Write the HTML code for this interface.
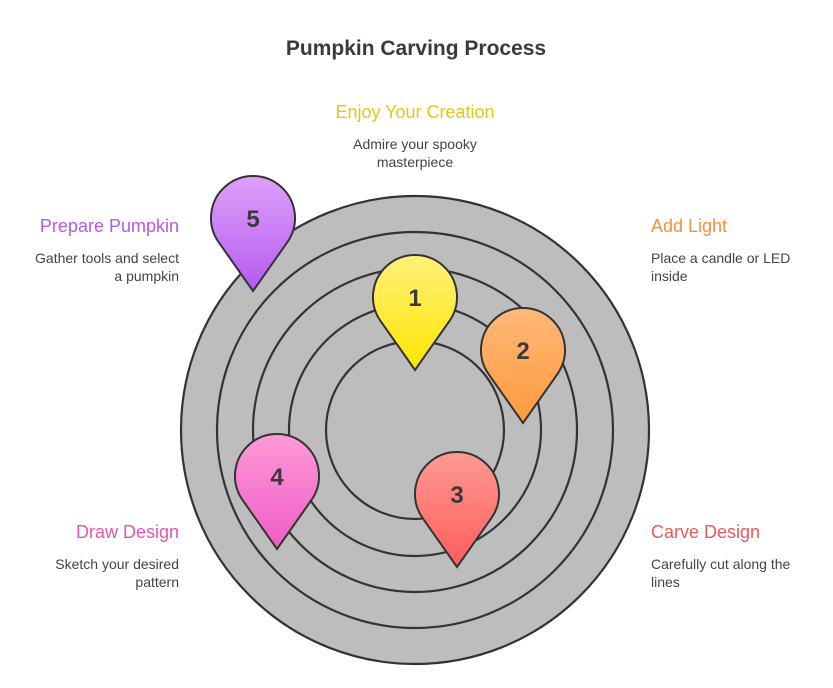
<!DOCTYPE html>
<html><head><meta charset="utf-8"><style>
body{margin:0;width:833px;height:683px;background:#fff;font-family:"Liberation Sans",sans-serif;overflow:hidden}
</style></head><body>
<svg width="833" height="683" xmlns="http://www.w3.org/2000/svg" font-family="Liberation Sans, sans-serif">
<defs>
<linearGradient id="gy" x1="0" y1="0" x2="0" y2="1"><stop offset="0" stop-color="#fff07a"/><stop offset="1" stop-color="#ffe600"/></linearGradient>
<linearGradient id="go" x1="0" y1="0" x2="0" y2="1"><stop offset="0" stop-color="#ffb87a"/><stop offset="1" stop-color="#ff9a3c"/></linearGradient>
<linearGradient id="gr" x1="0" y1="0" x2="0" y2="1"><stop offset="0" stop-color="#ff9a92"/><stop offset="1" stop-color="#ff5c5c"/></linearGradient>
<linearGradient id="gp" x1="0" y1="0" x2="0" y2="1"><stop offset="0" stop-color="#ff9ad8"/><stop offset="1" stop-color="#ee5cc6"/></linearGradient>
<linearGradient id="gv" x1="0" y1="0" x2="0" y2="1"><stop offset="0" stop-color="#dea0fa"/><stop offset="1" stop-color="#b45af0"/></linearGradient>
<path id="pin" d="M-34.4,24.1 A42 42 0 1 1 34.4,24.1 L0,73 Z"/>
</defs>
<text x="416" y="55" text-anchor="middle" font-size="21" font-weight="bold" fill="#3a3a3a">Pumpkin Carving Process</text>
<g fill="#bdbdbd" stroke="#333" stroke-width="2.2">
<circle cx="415" cy="430" r="234"/>
<circle cx="415" cy="430" r="198"/>
<circle cx="415" cy="430" r="162"/>
<circle cx="415" cy="430" r="126"/>
<circle cx="415" cy="430" r="89"/>
</g>
<g stroke="#333" stroke-width="2">
<use href="#pin" transform="translate(415,297)" fill="url(#gy)"/>
<use href="#pin" transform="translate(523,350)" fill="url(#go)"/>
<use href="#pin" transform="translate(457,494)" fill="url(#gr)"/>
<use href="#pin" transform="translate(277,476)" fill="url(#gp)"/>
<use href="#pin" transform="translate(253,218)" fill="url(#gv)"/>
</g>
<g font-size="24" font-weight="bold" fill="#3a3a3a" text-anchor="middle">
<text x="415" y="306">1</text><text x="523" y="359">2</text><text x="457" y="503">3</text><text x="277" y="485">4</text><text x="253" y="227">5</text>
</g>
<g font-size="18">
<text x="415" y="118" text-anchor="middle" fill="#e3c910">Enjoy Your Creation</text>
<text x="651" y="232" fill="#f0923a">Add Light</text>
<text x="651" y="538" fill="#e85a5a">Carve Design</text>
<text x="179" y="538" text-anchor="end" fill="#e055b8">Draw Design</text>
<text x="179" y="232" text-anchor="end" fill="#b45ae6">Prepare Pumpkin</text>
</g>
<g font-size="14" fill="#444">
<text x="415" y="149" text-anchor="middle">Admire your spooky</text>
<text x="415" y="167" text-anchor="middle">masterpiece</text>
<text x="651" y="263">Place a candle or LED</text>
<text x="651" y="281">inside</text>
<text x="651" y="569">Carefully cut along the</text>
<text x="651" y="587">lines</text>
<text x="179" y="569" text-anchor="end">Sketch your desired</text>
<text x="179" y="587" text-anchor="end">pattern</text>
<text x="179" y="263" text-anchor="end">Gather tools and select</text>
<text x="179" y="281" text-anchor="end">a pumpkin</text>
</g>
</svg>
</body></html>
